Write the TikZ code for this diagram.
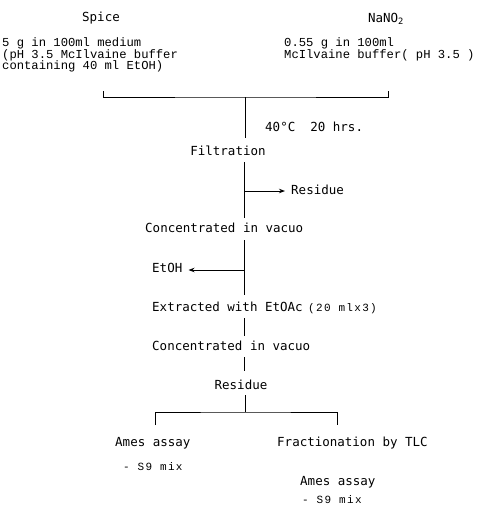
\documentclass[tikz,border=0pt]{standalone}
\usepackage{fontspec}
\setmainfont{DejaVu Sans Mono}
\newfontfamily\courf{Liberation Mono}
\newfontfamily\courls[LetterSpace=12]{Liberation Mono}
\usetikzlibrary{arrows.meta}
\begin{document}
\begin{tikzpicture}[x=1pt,y=-1pt,
  main/.style={font=\fontsize{12.5}{14}\selectfont, inner sep=0pt},
  mono/.style={font=\courf\fontsize{12.2}{14}\selectfont, inner sep=0pt},
  smallm/.style={font=\courls\fontsize{11}{12}\selectfont, inner sep=0pt},
  ln/.style={line width=1pt},
  arr/.style={line width=1pt, -{Stealth[length=6pt,width=4.5pt]}}]
\useasboundingbox[fill=white] (0,0) rectangle (482,507);

% top labels
\node[main] (spice) at (101,18) {Spice};
\node[main] (nano) at (386,19) {NaNO\textsubscript{2}};
\node[mono,anchor=west] (s1) at (2,43) {5 g in 100ml medium};
\node[mono,anchor=west] (s2) at (2,55) {(pH 3.5 McIlvaine buffer};
\node[mono,anchor=west] (s3) at (2,66) {containing 40 ml EtOH)};
\node[mono,anchor=west] (n1) at (284,43) {0.55 g in 100ml};
\node[mono,anchor=west] (n2) at (284,55) {McIlvaine buffer( pH 3.5 )};

% bracket joining the two
\coordinate (bl) at (103,91);
\coordinate (br) at (388,91);
\coordinate (bm) at (245,97);
\draw[ln] (bl) |- (bm) -| (br);

\node[main,anchor=west] (temp) at (265,127) {40°C\ \ 20 hrs.};
\node[main] (filt) at (228,151) {Filtration};
\coordinate (f0) at (245,138);
\draw[ln] (bm) -- (f0);

% filtration -> concentrated
\coordinate (t1a) at (244,162);
\coordinate (t1b) at (244,218);
\coordinate (t1m) at (244,191);
\draw[ln] (t1a) -- (t1b);
\node[main,anchor=west] (res1) at (291,190) {Residue};
\draw[arr, shorten >=6pt] (t1m) -- (res1.west |- t1m);

\node[main,anchor=west] (conc1) at (145,228) {Concentrated in vacuo};

% concentrated -> extracted
\coordinate (t2a) at (244,240);
\coordinate (t2b) at (244,295);
\coordinate (t2m) at (244,270);
\draw[ln] (t2a) -- (t2b);
\node[main,anchor=west] (etoh) at (152,268) {EtOH};
\draw[arr, shorten >=6pt] (t2m) -- (etoh.east |- t2m);

\node[main,anchor=west] (ext) at (152,307) {Extracted with EtOAc};
\node[smallm,anchor=west] (extq) at (308,308.5) {(20 mlx3)};

\coordinate (t3a) at (244,318);
\coordinate (t3b) at (244,336);
\draw[ln] (t3a) -- (t3b);
\node[main,anchor=west] (conc2) at (152,346) {Concentrated in vacuo};

\coordinate (t4a) at (244,357);
\coordinate (t4b) at (244,371);
\draw[ln] (t4a) -- (t4b);
\node[main] (res2) at (241,385) {Residue};

% split bracket
\coordinate (t5a) at (245,395);
\coordinate (t5b) at (245,412);
\coordinate (sl) at (155,425);
\coordinate (sr) at (337,425);
\draw[ln] (t5a) -- (t5b);
\draw[ln] (sl) |- (t5b) -| (sr);

\node[main,anchor=west] (ames1) at (115,443) {Ames assay};
\node[smallm,anchor=west] (s9a) at (123,467) {- S9 mix};
\node[main,anchor=west] (frac) at (277,443) {Fractionation by TLC};
\node[main,anchor=west] (ames2) at (300,482) {Ames assay};
\node[smallm,anchor=west] (s9b) at (302,500) {- S9 mix};
\end{tikzpicture}
\end{document}
